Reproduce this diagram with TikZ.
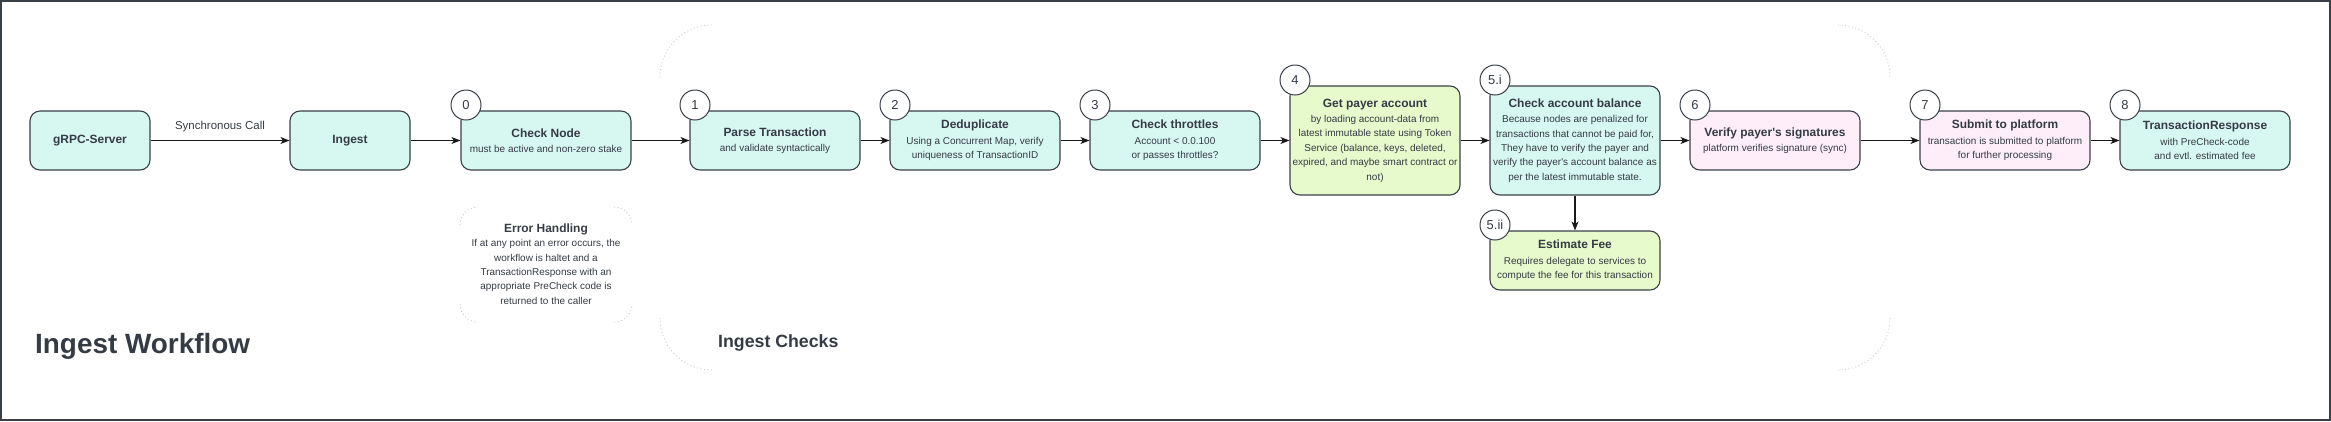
\documentclass[tikz,border=0pt]{standalone}
\usepackage{fontspec}
\setmainfont{Liberation Sans}
\usetikzlibrary{arrows.meta}
\definecolor{mint}{HTML}{D7F7F1}
\definecolor{lime}{HTML}{E7FACC}
\definecolor{pinkc}{HTML}{FDEEF9}
\definecolor{strokec}{HTML}{3A4048}
\definecolor{textc}{HTML}{353B44}
\definecolor{dotc}{HTML}{C8C8C8}
\newcommand{\boxtitle}[1]{{\fontsize{12}{14.5}\selectfont\bfseries #1}}
\tikzset{
  box/.style={draw=strokec, line width=1.1bp, rounded corners=10bp, align=center,
    inner sep=0pt, minimum height=59bp, minimum width=170bp, text=textc,
    font=\fontsize{10}{14.5}\selectfont},
  tallbox/.style={box, minimum height=109bp},
  num/.style={draw=strokec, line width=1bp, fill=white, circle, minimum size=30bp,
    inner sep=0pt, text=textc, font=\fontsize{13}{13}\selectfont},
  arr/.style={draw=black!90, line width=1.1bp, -{Stealth[length=9bp,width=7bp,inset=2.5bp]}},
  dotcorner/.style={draw=dotc, line width=0.8bp, dash pattern=on 1bp off 2.5bp},
  plain/.style={text=textc, inner sep=0pt, align=center}
}
\begin{document}
\begin{tikzpicture}[x=1bp, y=-1bp]
\useasboundingbox (0,0) rectangle (2331,421);
\draw[draw=strokec, line width=1.6bp] (0.8,0.8) rectangle (2330.2,420.2);

% group corners (Ingest Checks)
\draw[dotcorner, rounded corners=52bp] (660,77) -- (660,25) -- (712,25);
\draw[dotcorner, rounded corners=52bp] (660,318) -- (660,370) -- (712,370);
\draw[dotcorner, rounded corners=52bp] (1838,25) -- (1890,25) -- (1890,77);
\draw[dotcorner, rounded corners=52bp] (1838,370) -- (1890,370) -- (1890,318);
% error handling corners
\draw[dotcorner, rounded corners=18bp] (460,225) -- (460,207) -- (478,207);
\draw[dotcorner, rounded corners=18bp] (614,207) -- (632,207) -- (632,225);
\draw[dotcorner, rounded corners=18bp] (460,304) -- (460,322) -- (478,322);
\draw[dotcorner, rounded corners=18bp] (614,322) -- (632,322) -- (632,304);

% boxes
\node[box, fill=mint, minimum width=120bp] (grpc) at (90,140.5) {\boxtitle{gRPC-Server}};
\node[box, fill=mint, minimum width=120bp] (ingest) at (350,140.5) {\boxtitle{Ingest}};
\node[box, fill=mint] (check) at (546,140.5) {\boxtitle{Check Node}\\[1bp]must be active and non-zero stake};
\node[box, fill=mint] (parse) at (775,140.5) {\boxtitle{Parse Transaction}\\[1bp]and validate syntactically};
\node[box, fill=mint] (dedup) at (975,140.5) {\boxtitle{Deduplicate}\\[1bp]Using a Concurrent Map, verify\\uniqueness of TransactionID};
\node[box, fill=mint] (throttle) at (1175,140.5) {\boxtitle{Check throttles}\\[1bp]Account < 0.0.100\\or passes throttles?};
\node[tallbox, fill=lime] (payer) at (1375,140.5) {\boxtitle{Get payer account}\\[1bp]by loading account-data from\\latest immutable state using Token\\Service (balance, keys, deleted,\\expired, and maybe smart contract or\\not)};
\node[tallbox, fill=mint] (balance) at (1575,140.5) {\boxtitle{Check account balance}\\[1bp]Because nodes are penalized for\\transactions that cannot be paid for,\\They have to verify the payer and\\verify the payer\textquotesingle s account balance as\\per the latest immutable state.};
\node[box, fill=lime] (fee) at (1575,260.5) {\boxtitle{Estimate Fee}\\[1bp]Requires delegate to services to\\compute the fee for this transaction};
\node[box, fill=pinkc] (verify) at (1775,140.5) {\boxtitle{Verify payer\textquotesingle s signatures}\\[1bp]platform verifies signature (sync)};
\node[box, fill=pinkc] (submit) at (2005,140.5) {\boxtitle{Submit to platform}\\[1bp]transaction is submitted to platform\\for further processing};
\node[box, fill=mint] (resp) at (2205,140.5) {\boxtitle{TransactionResponse}\\[1bp]with PreCheck-code\\and evtl. estimated fee};

% error handling text
\node[plain, font=\fontsize{10}{14.4}\selectfont] (err) at (546,264) {\boxtitle{Error Handling}\\If at any point an error occurs, the\\workflow is haltet and a\\TransactionResponse with an\\appropriate PreCheck code is\\returned to the caller};

% number circles
\node[num] (n0) at (466,105) {0};
\node[num] (n1) at (695,105) {1};
\node[num] (n2) at (895,105) {2};
\node[num] (n3) at (1095,105) {3};
\node[num] (n4) at (1295,80) {4};
\node[num] (n5i) at (1495,80) {5.i};
\node[num] (n5ii) at (1495,225) {5.ii};
\node[num] (n6) at (1695,105) {6};
\node[num] (n7) at (1925,105) {7};
\node[num] (n8) at (2125,105) {8};

% connectors
\draw[arr] (grpc) -- node[midway, above=5bp, text=textc, font=\fontsize{11.5}{12}\selectfont] (sync) {Synchronous Call} (ingest);
\draw[arr] (ingest) -- (check);
\draw[arr] (check) -- (parse);
\draw[arr] (parse) -- (dedup);
\draw[arr] (dedup) -- (throttle);
\draw[arr] (throttle) -- (payer);
\draw[arr] (payer) -- (balance);
\draw[arr] (balance) -- (verify);
\draw[arr] (balance) -- (fee);
\draw[arr] (verify) -- (submit);
\draw[arr] (submit) -- (resp);

% titles
\node[plain, anchor=west, font=\fontsize{28}{30}\selectfont\bfseries] (title) at (35,346) {Ingest Workflow};
\node[plain, anchor=west, font=\fontsize{17.8}{20}\selectfont\bfseries] (checks) at (718,343) {Ingest Checks};
\end{tikzpicture}
\end{document}
